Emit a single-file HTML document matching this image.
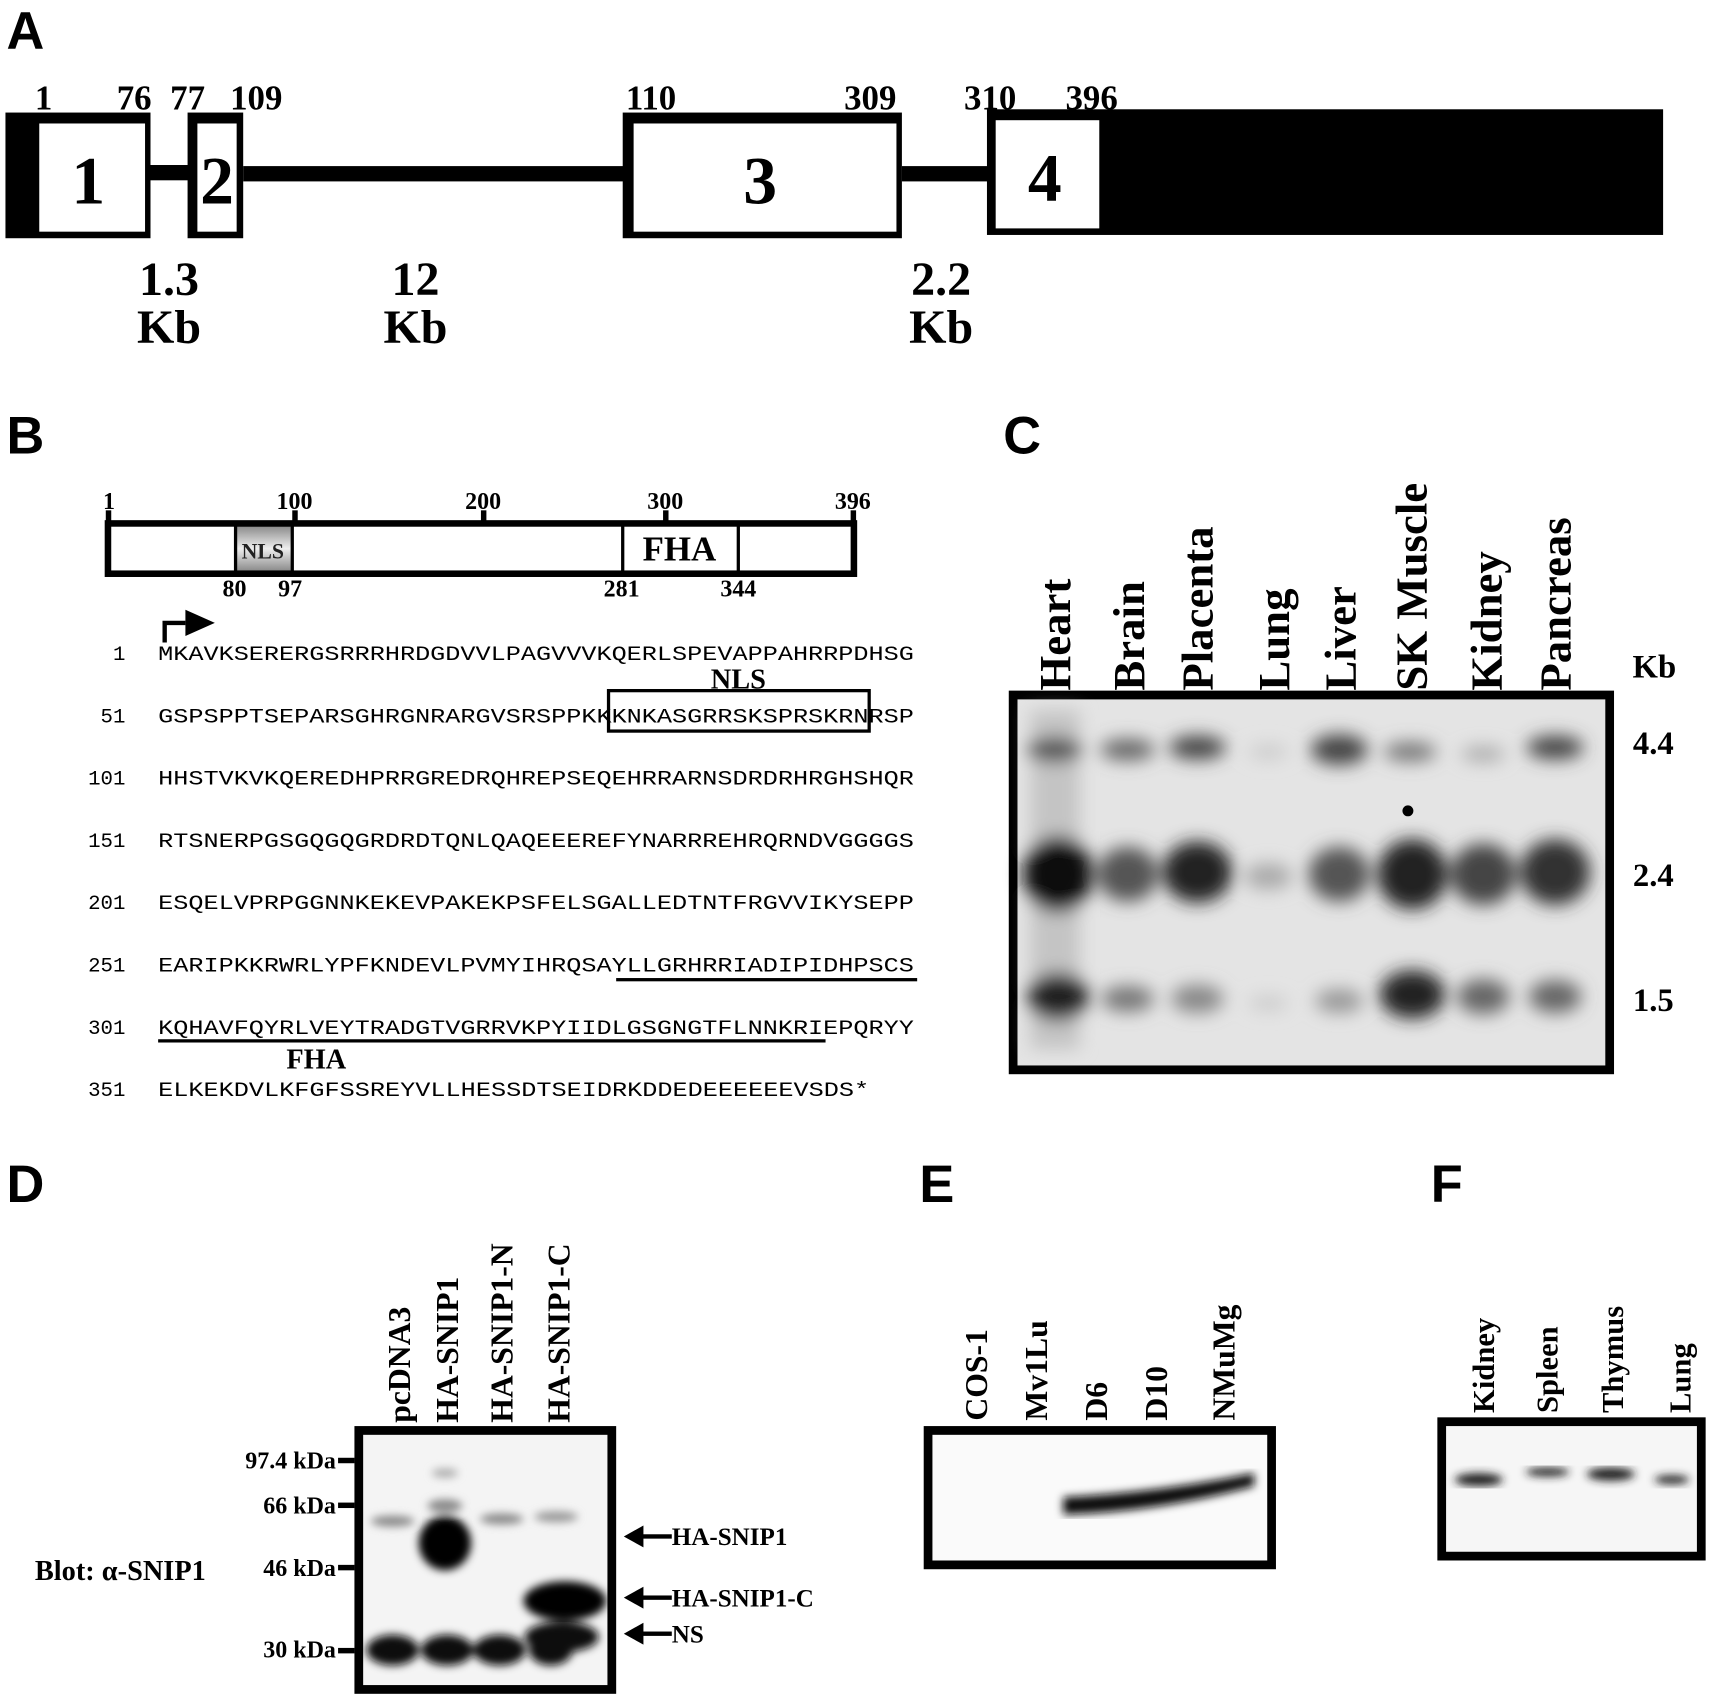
<!DOCTYPE html>
<html><head><meta charset="utf-8"><style>
html,body{margin:0;padding:0;background:#fff;}
svg{display:block;}
.s{font-family:"Liberation Serif",serif;font-weight:bold;}
.h{font-family:"Liberation Sans",sans-serif;font-weight:bold;}
.m{font-family:"Liberation Mono",monospace;}
</style></head><body>
<svg width="1710" height="1696" viewBox="0 0 1568 1552" preserveAspectRatio="none" xmlns="http://www.w3.org/2000/svg">
<defs>
<filter id="b3"><feGaussianBlur stdDeviation="4"/></filter>
<filter id="b6"><feGaussianBlur stdDeviation="8"/></filter>
<linearGradient id="ng" x1="0" y1="0" x2="0" y2="1"><stop offset="0" stop-color="#888"/><stop offset="0.5" stop-color="#eee"/><stop offset="1" stop-color="#888"/></linearGradient>
</defs>
<rect width="1568" height="1552" fill="#fff"/>
<!-- A -->
<text class="h" x="6" y="45" font-size="48">A</text>
<g class="s" font-size="32" text-anchor="middle">
<text x="40" y="100">1</text><text x="123" y="100">76</text><text x="172" y="100">77</text><text x="235" y="100">109</text>
<text x="597" y="100">110</text><text x="798" y="100">309</text><text x="908" y="100">310</text><text x="1001" y="100">396</text>
</g>
<rect x="5" y="103" width="133" height="115" fill="#000"/><rect x="36" y="113" width="97" height="99" fill="#fff"/>
<rect x="138" y="151" width="36" height="14" fill="#000"/>
<rect x="172" y="103" width="51" height="115" fill="#000"/><rect x="181" y="113" width="36" height="99" fill="#fff"/>
<rect x="223" y="152" width="350" height="14" fill="#000"/>
<rect x="571" y="103" width="256" height="115" fill="#000"/><rect x="581" y="113" width="241" height="99" fill="#fff"/>
<rect x="827" y="152" width="80" height="14" fill="#000"/>
<rect x="905" y="100" width="620" height="115" fill="#000"/><rect x="913" y="110" width="95" height="99" fill="#fff"/>
<g class="s" font-size="62" text-anchor="middle">
<text x="81" y="186">1</text><text x="199" y="186">2</text><text x="697" y="186">3</text><text x="958" y="184">4</text>
</g>
<g class="s" font-size="44" text-anchor="middle">
<text x="155" y="270">1.3</text><text x="155" y="314">Kb</text>
<text x="381" y="270">12</text><text x="381" y="314">Kb</text>
<text x="863" y="270">2.2</text><text x="863" y="314">Kb</text>
</g>
<!-- B -->
<text class="h" x="6" y="415" font-size="48">B</text>
<g class="s" font-size="22" text-anchor="middle">
<text x="100" y="466">1</text><text x="270" y="466">100</text><text x="443" y="466">200</text><text x="610" y="466">300</text><text x="782" y="466">396</text>
<text x="215" y="546">80</text><text x="266" y="546">97</text><text x="570" y="546">281</text><text x="677" y="546">344</text>
</g>
<rect x="215" y="481" width="53" height="42" fill="url(#ng)"/>
<rect x="99" y="479" width="684" height="46" fill="none" stroke="#000" stroke-width="6"/>
<rect x="97" y="467" width="5" height="14"/><rect x="268" y="467" width="5" height="14"/><rect x="441" y="467" width="5" height="14"/><rect x="608" y="467" width="5" height="14"/><rect x="780" y="467" width="5" height="14"/>
<line x1="216" y1="479" x2="216" y2="525" stroke="#000" stroke-width="3"/><line x1="268" y1="479" x2="268" y2="525" stroke="#000" stroke-width="3"/>
<line x1="571" y1="479" x2="571" y2="525" stroke="#000" stroke-width="3"/><line x1="677" y1="479" x2="677" y2="525" stroke="#000" stroke-width="3"/>
<text class="s" x="241" y="511" font-size="20" font-weight="normal" text-anchor="middle" fill="#222">NLS</text>
<text class="s" x="623" y="513" font-size="32" text-anchor="middle">FHA</text>
<path d="M151 588 V570 H170" fill="none" stroke="#000" stroke-width="4"/><path d="M170 558 L197 570 L170 582 Z"/>
<g class="m" font-size="19">
<text x="115" y="604" text-anchor="end">1</text><text x="145" y="604" textLength="693" lengthAdjust="spacingAndGlyphs">MKAVKSERERGSRRRHRDGDVVLPAGVVVKQERLSPEVAPPAHRRPDHSG</text>
<text x="115" y="661" text-anchor="end">51</text><text x="145" y="661" textLength="693" lengthAdjust="spacingAndGlyphs">GSPSPPTSEPARSGHRGNRARGVSRSPPKKKNKASGRRSKSPRSKRNRSP</text>
<text x="115" y="718" text-anchor="end">101</text><text x="145" y="718" textLength="693" lengthAdjust="spacingAndGlyphs">HHSTVKVKQEREDHPRRGREDRQHREPSEQEHRRARNSDRDRHRGHSHQR</text>
<text x="115" y="775" text-anchor="end">151</text><text x="145" y="775" textLength="693" lengthAdjust="spacingAndGlyphs">RTSNERPGSGQGQGRDRDTQNLQAQEEEREFYNARRREHRQRNDVGGGGS</text>
<text x="115" y="832" text-anchor="end">201</text><text x="145" y="832" textLength="693" lengthAdjust="spacingAndGlyphs">ESQELVPRPGGNNKEKEVPAKEKPSFELSGALLEDTNTFRGVVIKYSEPP</text>
<text x="115" y="889" text-anchor="end">251</text><text x="145" y="889" textLength="693" lengthAdjust="spacingAndGlyphs">EARIPKKRWRLYPFKNDEVLPVMYIHRQSAYLLGRHRRIADIPIDHPSCS</text>
<text x="115" y="946" text-anchor="end">301</text><text x="145" y="946" textLength="693" lengthAdjust="spacingAndGlyphs">KQHAVFQYRLVEYTRADGTVGRRVKPYIIDLGSGNGTFLNNKRIEPQRYY</text>
<text x="115" y="1003" text-anchor="end">351</text><text x="145" y="1003" textLength="652" lengthAdjust="spacingAndGlyphs">ELKEKDVLKFGFSSREYVLLHESSDTSEIDRKDDEDEEEEEEVSDS*</text>
</g>
<rect x="558" y="632" width="239" height="37" fill="none" stroke="#000" stroke-width="3"/>
<text class="s" x="677" y="630" font-size="26" text-anchor="middle">NLS</text>
<rect x="565" y="895" width="276" height="3"/><rect x="145" y="951" width="612" height="3"/>
<text class="s" x="290" y="978" font-size="26" text-anchor="middle">FHA</text>
<!-- C -->
<text class="h" x="920" y="415" font-size="48">C</text>
<rect x="929" y="636" width="547" height="343" fill="#e4e4e4" stroke="#000" stroke-width="8"/>
<g filter="url(#b6)">
<rect x="945" y="650" width="45" height="310" fill="#c4c4c4"/>
<ellipse cx="967" cy="686" rx="25" ry="12" fill="#555"/><ellipse cx="1034" cy="686" rx="25" ry="10" fill="#666"/><ellipse cx="1098" cy="684" rx="26" ry="11" fill="#444"/><ellipse cx="1163" cy="688" rx="18" ry="7" fill="#ccc"/><ellipse cx="1228" cy="686" rx="26" ry="14" fill="#444"/><ellipse cx="1293" cy="688" rx="24" ry="9" fill="#777"/><ellipse cx="1360" cy="690" rx="20" ry="7" fill="#aaa"/><ellipse cx="1426" cy="684" rx="26" ry="11" fill="#444"/>
<ellipse cx="970" cy="800" rx="32" ry="35" fill="#111"/><ellipse cx="1034" cy="800" rx="28" ry="25" fill="#555"/><ellipse cx="1098" cy="798" rx="32" ry="28" fill="#222"/><ellipse cx="1163" cy="802" rx="22" ry="12" fill="#aaa"/><ellipse cx="1228" cy="800" rx="28" ry="25" fill="#555"/><ellipse cx="1295" cy="800" rx="32" ry="32" fill="#222"/><ellipse cx="1360" cy="800" rx="30" ry="28" fill="#444"/><ellipse cx="1426" cy="798" rx="32" ry="30" fill="#333"/>
<ellipse cx="970" cy="912" rx="28" ry="22" fill="#222"/><ellipse cx="1034" cy="914" rx="24" ry="12" fill="#777"/><ellipse cx="1098" cy="914" rx="24" ry="13" fill="#888"/><ellipse cx="1163" cy="918" rx="18" ry="7" fill="#ccc"/><ellipse cx="1228" cy="916" rx="22" ry="11" fill="#999"/><ellipse cx="1295" cy="910" rx="30" ry="22" fill="#222"/><ellipse cx="1360" cy="912" rx="24" ry="16" fill="#666"/><ellipse cx="1426" cy="912" rx="24" ry="15" fill="#666"/>
</g>
<circle cx="1291" cy="742" r="5" fill="#000"/>
<g class="s" font-size="41">
<text transform="translate(981,632) rotate(-90)">Heart</text>
<text transform="translate(1049,632) rotate(-90)">Brain</text>
<text transform="translate(1112,632) rotate(-90)">Placenta</text>
<text transform="translate(1182,632) rotate(-90)">Lung</text>
<text transform="translate(1243,632) rotate(-90)">Liver</text>
<text transform="translate(1308,632) rotate(-90)">SK Muscle</text>
<text transform="translate(1377,632) rotate(-90)">Kidney</text>
<text transform="translate(1440,632) rotate(-90)">Pancreas</text>
</g>
<g class="s" font-size="30" text-anchor="middle">
<text x="1517" y="620">Kb</text><text x="1516" y="690">4.4</text><text x="1516" y="811">2.4</text><text x="1516" y="925">1.5</text>
</g>
<!-- D -->
<text class="h" x="6" y="1100" font-size="48">D</text>
<g class="s" font-size="29">
<text transform="translate(376,1302) rotate(-90)">pcDNA3</text>
<text transform="translate(420,1302) rotate(-90)">HA-SNIP1</text>
<text transform="translate(470,1302) rotate(-90)">HA-SNIP1-N</text>
<text transform="translate(522,1302) rotate(-90)">HA-SNIP1-C</text>
</g>
<rect x="329" y="1309" width="232" height="237" fill="#f4f4f4" stroke="#000" stroke-width="8"/>
<g filter="url(#b3)">
<ellipse cx="360" cy="1392" rx="20" ry="5" fill="#888"/><ellipse cx="460" cy="1390" rx="20" ry="5" fill="#888"/><ellipse cx="510" cy="1388" rx="20" ry="5" fill="#999"/>
<ellipse cx="408" cy="1378" rx="16" ry="6" fill="#888"/><ellipse cx="408" cy="1348" rx="12" ry="4" fill="#aaa"/>
<ellipse cx="408" cy="1412" rx="24" ry="25" fill="#000"/>
<ellipse cx="518" cy="1465" rx="38" ry="18" fill="#000"/><ellipse cx="515" cy="1498" rx="34" ry="14" fill="#111"/>
<ellipse cx="360" cy="1510" rx="24" ry="14" fill="#111"/><ellipse cx="410" cy="1510" rx="24" ry="14" fill="#111"/><ellipse cx="458" cy="1510" rx="24" ry="14" fill="#111"/><ellipse cx="505" cy="1510" rx="20" ry="14" fill="#111"/>
</g>
<g class="s" font-size="22" text-anchor="end">
<text x="308" y="1344">97.4 kDa</text><text x="308" y="1385">66 kDa</text><text x="308" y="1442">46 kDa</text><text x="308" y="1517">30 kDa</text>
</g>
<rect x="310" y="1334" width="15" height="5"/><rect x="310" y="1375" width="15" height="5"/><rect x="310" y="1432" width="15" height="5"/><rect x="310" y="1508" width="15" height="5"/>
<text class="s" x="32" y="1446" font-size="26">Blot: α-SNIP1</text>
<g>
<path d="M572 1406 L590 1396 L590 1416 Z"/><rect x="588" y="1404" width="28" height="4"/>
<path d="M572 1462 L590 1452 L590 1472 Z"/><rect x="588" y="1460" width="28" height="4"/>
<path d="M572 1495 L590 1485 L590 1505 Z"/><rect x="588" y="1493" width="28" height="4"/>
</g>
<g class="s" font-size="23"><text x="616" y="1414">HA-SNIP1</text><text x="616" y="1470">HA-SNIP1-C</text><text x="616" y="1503">NS</text></g>
<!-- E -->
<text class="h" x="843" y="1100" font-size="48">E</text>
<g class="s" font-size="29">
<text transform="translate(905,1300) rotate(-90)">COS-1</text>
<text transform="translate(960,1300) rotate(-90)">Mv1Lu</text>
<text transform="translate(1015,1300) rotate(-90)">D6</text>
<text transform="translate(1070,1300) rotate(-90)">D10</text>
<text transform="translate(1132,1300) rotate(-90)">NMuMg</text>
</g>
<rect x="851" y="1309" width="315" height="123" fill="#fafafa" stroke="#000" stroke-width="8"/>
<path d="M975 1370 Q1060 1366 1150 1348 L1150 1360 Q1060 1384 975 1386 Z" fill="#111" filter="url(#b3)"/>
<!-- F -->
<text class="h" x="1312" y="1100" font-size="48">F</text>
<g class="s" font-size="28">
<text transform="translate(1370,1293) rotate(-90)">Kidney</text>
<text transform="translate(1428,1293) rotate(-90)">Spleen</text>
<text transform="translate(1488,1293) rotate(-90)">Thymus</text>
<text transform="translate(1550,1293) rotate(-90)">Lung</text>
</g>
<rect x="1322" y="1301" width="238" height="123" fill="#f6f6f6" stroke="#000" stroke-width="8"/>
<g filter="url(#b3)" fill="#222">
<ellipse cx="1356" cy="1354" rx="22" ry="6"/><ellipse cx="1419" cy="1347" rx="20" ry="4"/><ellipse cx="1477" cy="1349" rx="22" ry="6"/><ellipse cx="1533" cy="1354" rx="16" ry="4"/>
</g>
</svg>
</body></html>
